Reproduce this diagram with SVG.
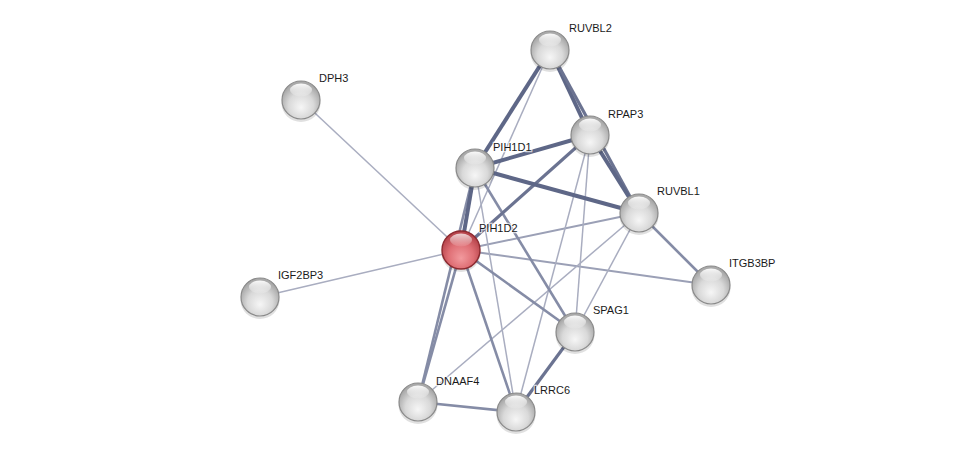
<svg xmlns="http://www.w3.org/2000/svg" width="975" height="457" viewBox="0 0 975 457">
<defs>
<radialGradient id="gGrey" cx="50%" cy="62%" r="55%" fx="50%" fy="70%">
<stop offset="0" stop-color="#f6f6f6"/>
<stop offset="0.6" stop-color="#d9d9d9"/>
<stop offset="1" stop-color="#a9a9a9"/>
</radialGradient>
<radialGradient id="gRed" cx="50%" cy="62%" r="55%" fx="50%" fy="72%">
<stop offset="0" stop-color="#f29a9e"/>
<stop offset="0.6" stop-color="#df6f75"/>
<stop offset="1" stop-color="#b8464d"/>
</radialGradient>
<linearGradient id="gHi" x1="0" y1="0" x2="0" y2="1">
<stop offset="0" stop-color="#ffffff" stop-opacity="0.95"/>
<stop offset="1" stop-color="#ffffff" stop-opacity="0.1"/>
</linearGradient>
<g id="sphere">
<ellipse cx="0" cy="3" rx="19.5" ry="19" fill="#000" opacity="0.12"/>
<circle r="19" fill="url(#gGrey)" stroke="#8a8a8a" stroke-width="1.2"/>
<ellipse cx="0" cy="-10" rx="11" ry="6.5" fill="url(#gHi)"/>
</g>
<g id="sphereRed">
<ellipse cx="0" cy="3" rx="19.5" ry="19" fill="#000" opacity="0.12"/>
<circle r="19" fill="url(#gRed)" stroke="#8c2a30" stroke-width="1.4"/>
<ellipse cx="0" cy="-10" rx="11" ry="6.5" fill="url(#gHi)" opacity="0.8"/>
</g>
</defs>
<style>
.e{fill:none;stroke-linecap:butt}
.t1{stroke:#5e6787;stroke-width:4}
.t2{stroke:#6b7391;stroke-width:3.2}
.t3{stroke:#858ca6;stroke-width:2.6}
.t4{stroke:#9ba0b6;stroke-width:2}
.t5{stroke:#a9adc0;stroke-width:1.5}
.lbl{font-family:"Liberation Sans",Arial,sans-serif;font-size:11px;fill:#1a1a1a;paint-order:stroke;stroke:#ffffff;stroke-width:2.5;stroke-opacity:0.7}
</style>
<rect width="975" height="457" fill="#ffffff"/>
<g id="connectors">
<line class="e t5" x1="461" y1="250" x2="301" y2="100"/>
<line class="e t5" x1="461" y1="250" x2="260" y2="297"/>
<line class="e t4" x1="461" y1="250" x2="711" y2="285"/>
<line class="e t4" x1="461" y1="250" x2="639" y2="213"/>
<line class="e t5" x1="639" y1="213" x2="418" y2="402"/>
<line class="e t5" x1="639" y1="213" x2="575" y2="332"/>
<line class="e t5" x1="590" y1="135" x2="575" y2="332"/>
<line class="e t5" x1="590" y1="135" x2="516" y2="412"/>
<line class="e t5" x1="475" y1="168" x2="516" y2="412"/>
<line class="e t5" x1="550" y1="50" x2="461" y2="250"/>
<line class="e t3" x1="475" y1="168" x2="575" y2="332"/>
<line class="e t3" x1="475" y1="168" x2="418" y2="402"/>
<line class="e t3" x1="461" y1="250" x2="418" y2="402"/>
<line class="e t3" x1="461" y1="250" x2="516" y2="412"/>
<line class="e t3" x1="461" y1="250" x2="575" y2="332"/>
<line class="e t3" x1="418" y1="402" x2="516" y2="412"/>
<line class="e t2" x1="575" y1="332" x2="516" y2="412"/>
<line class="e t3" x1="639" y1="213" x2="711" y2="285"/>
<line class="e t2" x1="590" y1="135" x2="461" y2="250"/>
<line class="e t1" x1="475" y1="168" x2="461" y2="250"/>
<line class="e t1" x1="475" y1="168" x2="639" y2="213"/>
<line class="e t1" x1="475" y1="168" x2="590" y2="135"/>
<line class="e t1" x1="550" y1="50" x2="475" y2="168"/>
<line class="e t1" x1="550" y1="50" x2="590" y2="135"/>
<line class="e t2" x1="550" y1="50" x2="639" y2="213"/>
<line class="e t1" x1="590" y1="135" x2="639" y2="213"/>
</g>
<g id="node-RUVBL2"><use href="#sphere" x="550" y="50"/><text class="lbl" x="569" y="32">RUVBL2</text></g>
<g id="node-DPH3"><use href="#sphere" x="301" y="100"/><text class="lbl" x="319" y="82">DPH3</text></g>
<g id="node-RPAP3"><use href="#sphere" x="590" y="135"/><text class="lbl" x="608" y="118">RPAP3</text></g>
<g id="node-PIH1D1"><use href="#sphere" x="475" y="168"/><text class="lbl" x="493" y="151">PIH1D1</text></g>
<g id="node-RUVBL1"><use href="#sphere" x="639" y="213"/><text class="lbl" x="657" y="195">RUVBL1</text></g>
<g id="node-PIH1D2"><use href="#sphereRed" x="461" y="250"/><text class="lbl" x="479" y="232">PIH1D2</text></g>
<g id="node-IGF2BP3"><use href="#sphere" x="260" y="297"/><text class="lbl" x="278" y="279">IGF2BP3</text></g>
<g id="node-ITGB3BP"><use href="#sphere" x="711" y="285"/><text class="lbl" x="729" y="267">ITGB3BP</text></g>
<g id="node-SPAG1"><use href="#sphere" x="575" y="332"/><text class="lbl" x="593" y="314">SPAG1</text></g>
<g id="node-DNAAF4"><use href="#sphere" x="418" y="402"/><text class="lbl" x="436" y="385">DNAAF4</text></g>
<g id="node-LRRC6"><use href="#sphere" x="516" y="412"/><text class="lbl" x="534" y="394">LRRC6</text></g>
</svg>
